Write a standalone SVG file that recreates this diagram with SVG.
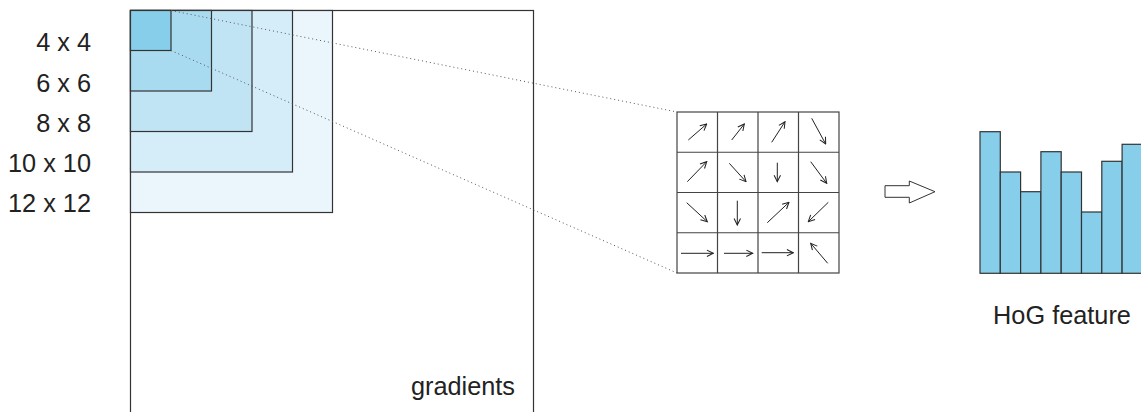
<svg xmlns="http://www.w3.org/2000/svg" width="1141" height="412" viewBox="0 0 1141 412">
<style>
text{font-family:"Liberation Sans",Arial,sans-serif;font-size:25.3px;fill:#222}
.box{stroke:#333;stroke-width:1.2}
.grid{fill:#fff;stroke:#444;stroke-width:1.2}
.arr{stroke:#222;stroke-width:1;fill:none;marker-end:url(#ah)}
.bar{fill:#87ceeb;stroke:#333;stroke-width:1.2}
.dot{stroke:#555;stroke-width:1;stroke-dasharray:1 3;fill:none}
</style>
<defs>
<marker id="ah" viewBox="0 0 10 10" refX="9" refY="5" markerWidth="8" markerHeight="8" markerUnits="userSpaceOnUse" orient="auto">
<path d="M1,1 L9,5 L1,9" fill="none" stroke="#222" stroke-width="1.3"/>
</marker>
</defs>
<g id="gradients">
<rect x="130.5" y="10.5" width="403" height="420" fill="#fff" class="box"/>
<text x="515" y="395" text-anchor="end">gradients</text>
</g>
<g id="win12"><rect x="130.5" y="10.5" width="202" height="202" fill="#eaf6fc" class="box"/><text x="91" y="212" text-anchor="end">12 x 12</text></g>
<g id="win10"><rect x="130.5" y="10.5" width="162" height="161.5" fill="#d5edf9" class="box"/><text x="91" y="172" text-anchor="end">10 x 10</text></g>
<g id="win8"><rect x="130.5" y="10.5" width="121.5" height="121" fill="#c1e4f5" class="box"/><text x="91" y="132" text-anchor="end">8 x 8</text></g>
<g id="win6"><rect x="130.5" y="10.5" width="81" height="80.5" fill="#a9dbf0" class="box"/><text x="91" y="91.5" text-anchor="end">6 x 6</text></g>
<g id="win4"><rect x="130.5" y="10.5" width="40.5" height="40" fill="#87ceeb" class="box"/><text x="91" y="51" text-anchor="end">4 x 4</text></g>
<g id="connectors">
<line x1="171" y1="10.5" x2="677" y2="112" class="dot"/>
<line x1="171" y1="50.5" x2="677" y2="273" class="dot"/>
<path d="M885,185.7 H909.3 V181 L935,191.7 L909.3,203 V197.3 H885 Z" fill="#fff" stroke="#333" stroke-width="1"/>
</g>
<g id="cells">
<rect x="677" y="112" width="162" height="161" class="grid"/>
<path d="M717.5,112 V273 M758,112 V273 M798.5,112 V273 M677,152.25 H839 M677,192.5 H839 M677,232.75 H839" stroke="#444" stroke-width="1.2"/>
<line x1="688.3" y1="140" x2="706.7" y2="124" class="arr"/>
<line x1="731.7" y1="140" x2="744.3" y2="124" class="arr"/>
<line x1="771.7" y1="142.3" x2="785" y2="121.7" class="arr"/>
<line x1="811.7" y1="118.3" x2="825.7" y2="144" class="arr"/>
<line x1="687.3" y1="181.7" x2="706.7" y2="161.7" class="arr"/>
<line x1="729.3" y1="163.3" x2="746" y2="181.7" class="arr"/>
<line x1="777.3" y1="162.7" x2="777.3" y2="181.7" class="arr"/>
<line x1="810.7" y1="161.7" x2="826.7" y2="183.3" class="arr"/>
<line x1="686.7" y1="202.7" x2="707.3" y2="221.7" class="arr"/>
<line x1="737.3" y1="200.7" x2="737.3" y2="225" class="arr"/>
<line x1="767.3" y1="222.7" x2="789" y2="202.3" class="arr"/>
<line x1="828.3" y1="202.3" x2="808.3" y2="221.7" class="arr"/>
<line x1="681" y1="253.3" x2="713.3" y2="253.3" class="arr"/>
<line x1="724" y1="253.3" x2="752.7" y2="253.3" class="arr"/>
<line x1="761.7" y1="252.7" x2="793.3" y2="252.7" class="arr"/>
<line x1="827.7" y1="263.3" x2="810.7" y2="243.3" class="arr"/>
</g>
<g id="hog">
<rect x="980" y="131.7" width="20.3" height="141.6" class="bar"/>
<rect x="1000.3" y="172" width="20.3" height="101.3" class="bar"/>
<rect x="1020.6" y="191.7" width="20.3" height="81.6" class="bar"/>
<rect x="1040.9" y="151.7" width="20.3" height="121.6" class="bar"/>
<rect x="1061.2" y="172" width="20.3" height="101.3" class="bar"/>
<rect x="1081.5" y="212" width="20.3" height="61.3" class="bar"/>
<rect x="1101.8" y="161.3" width="20.3" height="112" class="bar"/>
<rect x="1122.1" y="144.3" width="20.3" height="129" class="bar"/>
<text x="1062" y="324" text-anchor="middle">HoG feature</text>
</g>
</svg>
